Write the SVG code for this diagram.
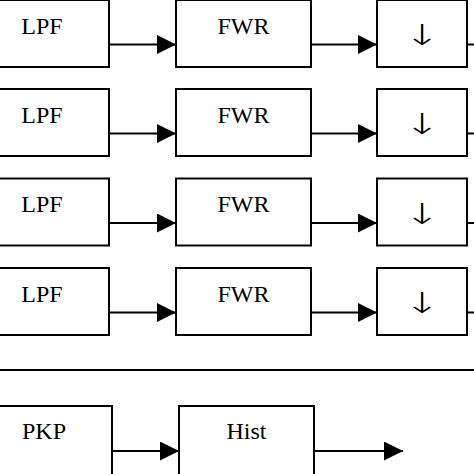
<svg xmlns="http://www.w3.org/2000/svg" width="474" height="474" viewBox="0 0 474 474">
<style>
.box{fill:#fff;stroke:#000;stroke-width:2}
.lbl{font-family:"Liberation Serif","Times New Roman",serif;font-size:24px;fill:#000;text-anchor:middle}
.arr{font-family:"DejaVu Sans",sans-serif;font-weight:200;font-size:29px;fill:#000;text-anchor:middle}
.ln{stroke:#000;stroke-width:2;fill:none}
.hd{fill:#000}
</style>
<defs>
<marker id="ah" viewBox="0 0 19 19" refX="19" refY="9.5" markerWidth="19" markerHeight="19" markerUnits="userSpaceOnUse" orient="auto">
<path d="M0,0 L19,9.5 L0,19 Z" class="hd"/>
</marker>
</defs>
<rect x="0" y="0" width="474" height="474" fill="#fff"/>
<g id="row1">
<g id="lpf1"><rect class="box" x="-10" y="0" width="119" height="67"/><text class="lbl" x="42" y="33.5">LPF</text></g>
<g id="fwr1"><rect class="box" x="176" y="0" width="135" height="67"/><text class="lbl" x="243.5" y="33.5">FWR</text></g>
<g id="ds1"><rect class="box" x="377" y="0" width="90" height="67"/><text class="arr" transform="translate(422,45) scale(1.5,1)">↓</text></g>
</g>
<g id="row2">
<g id="lpf2"><rect class="box" x="-10" y="89" width="119" height="67"/><text class="lbl" x="42" y="122.5">LPF</text></g>
<g id="fwr2"><rect class="box" x="176" y="89" width="135" height="67"/><text class="lbl" x="243.5" y="122.5">FWR</text></g>
<g id="ds2"><rect class="box" x="377" y="89" width="90" height="67"/><text class="arr" transform="translate(422,134) scale(1.5,1)">↓</text></g>
</g>
<g id="row3">
<g id="lpf3"><rect class="box" x="-10" y="178.5" width="119" height="67"/><text class="lbl" x="42" y="212">LPF</text></g>
<g id="fwr3"><rect class="box" x="176" y="178.5" width="135" height="67"/><text class="lbl" x="243.5" y="212">FWR</text></g>
<g id="ds3"><rect class="box" x="377" y="178.5" width="90" height="67"/><text class="arr" transform="translate(422,223.5) scale(1.5,1)">↓</text></g>
</g>
<g id="row4">
<g id="lpf4"><rect class="box" x="-10" y="268" width="119" height="67"/><text class="lbl" x="42" y="301.5">LPF</text></g>
<g id="fwr4"><rect class="box" x="176" y="268" width="135" height="67"/><text class="lbl" x="243.5" y="301.5">FWR</text></g>
<g id="ds4"><rect class="box" x="377" y="268" width="90" height="67"/><text class="arr" transform="translate(422,313) scale(1.5,1)">↓</text></g>
</g>
<g id="pkp"><rect class="box" x="-10" y="406" width="122" height="80"/><text class="lbl" x="44" y="439">PKP</text></g>
<g id="hist"><rect class="box" x="179" y="406" width="135" height="80"/><text class="lbl" x="246.5" y="439">Hist</text></g>
<g id="connectors">
<line class="ln" x1="109" y1="44.5" x2="176" y2="44.5" marker-end="url(#ah)"/>
<line class="ln" x1="311" y1="44.5" x2="377" y2="44.5" marker-end="url(#ah)"/>
<line class="ln" x1="467" y1="44.5" x2="480" y2="44.5"/>
<line class="ln" x1="109" y1="133.5" x2="176" y2="133.5" marker-end="url(#ah)"/>
<line class="ln" x1="311" y1="133.5" x2="377" y2="133.5" marker-end="url(#ah)"/>
<line class="ln" x1="467" y1="133.5" x2="480" y2="133.5"/>
<line class="ln" x1="109" y1="223" x2="176" y2="223" marker-end="url(#ah)"/>
<line class="ln" x1="311" y1="223" x2="377" y2="223" marker-end="url(#ah)"/>
<line class="ln" x1="467" y1="223" x2="480" y2="223"/>
<line class="ln" x1="109" y1="312.5" x2="176" y2="312.5" marker-end="url(#ah)"/>
<line class="ln" x1="311" y1="312.5" x2="377" y2="312.5" marker-end="url(#ah)"/>
<line class="ln" x1="467" y1="312.5" x2="480" y2="312.5"/>
<line class="ln" x1="0" y1="370" x2="474" y2="370"/>
<line class="ln" x1="112" y1="451" x2="179" y2="451" marker-end="url(#ah)"/>
<line class="ln" x1="314" y1="451" x2="403" y2="451" marker-end="url(#ah)"/>
</g>
</svg>
